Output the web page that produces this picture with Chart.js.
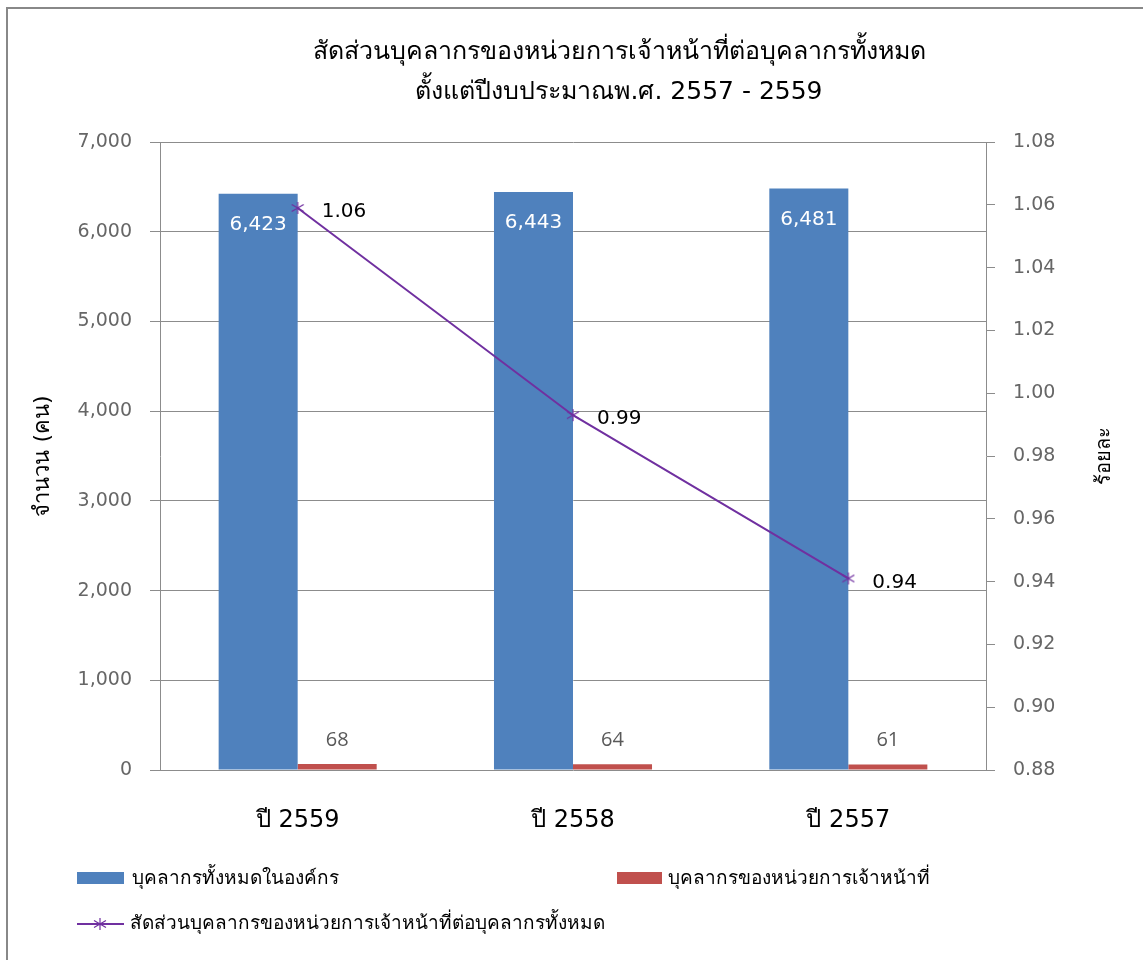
<!DOCTYPE html>
<html>
<head>
<meta charset="utf-8">
<script src="https://cdn.jsdelivr.net/npm/chart.js@4/dist/chart.umd.min.js"></script>
<style>
  html, body { margin: 0; padding: 0; background: #fff; }
  #wrap { width: 1143px; height: 960px; }
</style>
</head>
<body>
<div id="wrap"><canvas id="chart" width="1143" height="960"></canvas></div>
<script>
// ข้อมูลบุคลากร ปีงบประมาณ 2557 - 2559
const years = ['ปี 2559', 'ปี 2558', 'ปี 2557'];
const allStaff = [6423, 6443, 6481];
const hrStaff = [68, 64, 61];
const ratioPct = [1.059, 0.993, 0.941];

const titleLines = [
    'สัดส่วนบุคลากรของหน่วยการเจ้าหน้าที่ต่อบุคลากรทั้งหมด',
    'ตั้งแต่ปีงบประมาณพ.ศ. 2557 - 2559'
];
const seriesNames = [
    'บุคลากรทั้งหมดในองค์กร',
    'บุคลากรของหน่วยการเจ้าหน้าที่',
    'สัดส่วนบุคลากรของหน่วยการเจ้าหน้าที่ต่อบุคลากรทั้งหมด'
];
const leftAxisTitle = 'จำนวน (คน)';
const rightAxisTitle = 'ร้อยละ';

const BLUE = '#4F81BD';
const RED = '#C0504D';
const PURPLE = '#7030A0';
const GRID = '#8C8C8C';
const THAI_FONT = 'Tahoma, "DejaVu Sans", sans-serif';

// เครื่องหมายดอกจันแบบ Excel (กากบาท + เส้นตั้ง)
const starMarker = (size, color) => {
    const c = document.createElement('canvas');
    c.width = c.height = size;
    const g = c.getContext('2d');
    const m = size / 2, r = size / 2 - 1;
    g.strokeStyle = color;
    g.lineWidth = 1.2;
    g.beginPath();
    g.moveTo(m - r, m - r * 0.6); g.lineTo(m + r, m + r * 0.6);
    g.moveTo(m - r, m + r * 0.6); g.lineTo(m + r, m - r * 0.6);
    g.moveTo(m, m - r); g.lineTo(m, m + r);
    g.stroke();
    return c;
};
const star = starMarker(14, PURPLE);

// กรอบ หัวเรื่อง ป้ายค่า และคำอธิบายสัญลักษณ์
const decorations = {
    id: 'decorations',
    afterDatasetsDraw(chart) {
        const ctx = chart.ctx;
        ctx.save();

        // ป้ายค่าบนแท่งสีน้ำเงิน
        ctx.textAlign = 'center';
        ctx.textBaseline = 'middle';
        ctx.font = '20px "DejaVu Sans"';
        ctx.fillStyle = '#fff';
        chart.getDatasetMeta(1).data.forEach((bar, i) => {
            ctx.fillText(allStaff[i].toLocaleString('en-US'), bar.x, bar.y + 31);
        });

        // ป้ายค่าบนแท่งสีแดง
        ctx.font = '20px "Open Sans"';
        ctx.fillStyle = '#595959';
        chart.getDatasetMeta(2).data.forEach((bar, i) => {
            ctx.fillText(String(hrStaff[i]), bar.x, bar.y - 24);
        });

        // ป้ายค่าร้อยละ
        ctx.textAlign = 'left';
        ctx.font = '20px "DejaVu Sans"';
        ctx.fillStyle = '#000';
        chart.getDatasetMeta(0).data.forEach((pt, i) => {
            ctx.fillText(ratioPct[i].toFixed(2), pt.x + 24, pt.y + 4);
        });
        ctx.restore();
    },
    afterDraw(chart) {
        const ctx = chart.ctx;
        const area = chart.chartArea;
        ctx.save();

        // กรอบด้านบนและด้านซ้าย
        ctx.strokeStyle = '#888';
        ctx.lineWidth = 2;
        ctx.beginPath();
        ctx.moveTo(7, 960); ctx.lineTo(7, 8); ctx.lineTo(1143, 8);
        ctx.stroke();

        // หัวเรื่อง
        ctx.fillStyle = '#000';
        ctx.textAlign = 'center';
        ctx.textBaseline = 'middle';
        ctx.font = '25px ' + THAI_FONT;
        titleLines.forEach((t, i) => ctx.fillText(t, 619, 52 + i * 40));

        // ชื่อแกนขวา (อ่านจากล่างขึ้นบน)
        ctx.save();
        ctx.translate(1105, (area.top + area.bottom) / 2);
        ctx.rotate(-Math.PI / 2);
        ctx.font = '20px ' + THAI_FONT;
        ctx.fillText(rightAxisTitle, 0, 0);
        ctx.restore();

        // คำอธิบายสัญลักษณ์
        ctx.textAlign = 'left';
        ctx.font = '19px ' + THAI_FONT;
        const ds = chart.data.datasets;
        ctx.fillStyle = ds[1].backgroundColor;
        ctx.fillRect(77, 872, 47, 12);
        ctx.fillStyle = '#000';
        ctx.fillText(ds[1].label, 132, 879);

        ctx.fillStyle = ds[2].backgroundColor;
        ctx.fillRect(617, 872, 45, 12);
        ctx.fillStyle = '#000';
        ctx.fillText(ds[2].label, 668, 879);

        ctx.strokeStyle = ds[0].borderColor;
        ctx.lineWidth = 2;
        ctx.beginPath();
        ctx.moveTo(77, 924); ctx.lineTo(124, 924);
        ctx.stroke();
        ctx.drawImage(star, 100 - 7, 924 - 7);
        ctx.fillStyle = '#000';
        ctx.fillText(ds[0].label, 130, 924);

        ctx.restore();
    }
};

new Chart(document.getElementById('chart'), {
    type: 'bar',
    data: {
        labels: years,
        datasets: [
            {
                type: 'line',
                label: seriesNames[2],
                data: ratioPct,
                yAxisID: 'yPct',
                borderColor: PURPLE,
                backgroundColor: PURPLE,
                borderWidth: 2,
                pointStyle: star,
                pointRadius: 7,
                tension: 0,
                order: 0
            },
            {
                label: seriesNames[0],
                data: allStaff,
                yAxisID: 'y',
                backgroundColor: BLUE,
                categoryPercentage: 0.574,
                barPercentage: 1,
                order: 1
            },
            {
                label: seriesNames[1],
                data: hrStaff,
                yAxisID: 'y',
                backgroundColor: RED,
                categoryPercentage: 0.574,
                barPercentage: 1,
                order: 1
            }
        ]
    },
    options: {
        responsive: false,
        animation: false,
        devicePixelRatio: 1,
        layout: { padding: { top: 142, left: 10, right: 10, bottom: 110 } },
        plugins: {
            legend: { display: false },
            title: { display: false },
            tooltip: { enabled: false }
        },
        scales: {
            x: {
                grid: { display: false, drawTicks: false, tickLength: 0 },
                border: { display: false },
                ticks: {
                    color: '#000',
                    font: { family: THAI_FONT, size: 24 },
                    padding: 36
                },
                afterFit: s => { s.height = 80; }
            },
            y: {
                position: 'left',
                min: 0,
                max: 7000,
                ticks: {
                    stepSize: 1000,
                    color: '#666',
                    font: { family: '"DejaVu Sans"', size: 19 },
                    padding: 18,
                    callback: v => v.toLocaleString('en-US')
                },
                grid: { color: GRID, tickLength: 10 },
                border: { display: true, color: GRID },
                title: {
                    display: true,
                    text: leftAxisTitle,
                    color: '#000',
                    font: { family: THAI_FONT, size: 22 },
                    padding: { top: 20, bottom: 0 }
                },
                afterFit: s => { s.width = 150; }
            },
            yPct: {
                position: 'right',
                min: 0.88,
                max: 1.08,
                ticks: {
                    stepSize: 0.02,
                    color: '#666',
                    font: { family: '"DejaVu Sans"', size: 19 },
                    padding: 18,
                    callback: v => v.toFixed(2)
                },
                grid: { drawOnChartArea: false, color: GRID, tickLength: 9 },
                border: { display: true, color: GRID },
                afterFit: s => { s.width = 147; }
            }
        }
    },
    plugins: [decorations]
});
</script>
</body>
</html>
